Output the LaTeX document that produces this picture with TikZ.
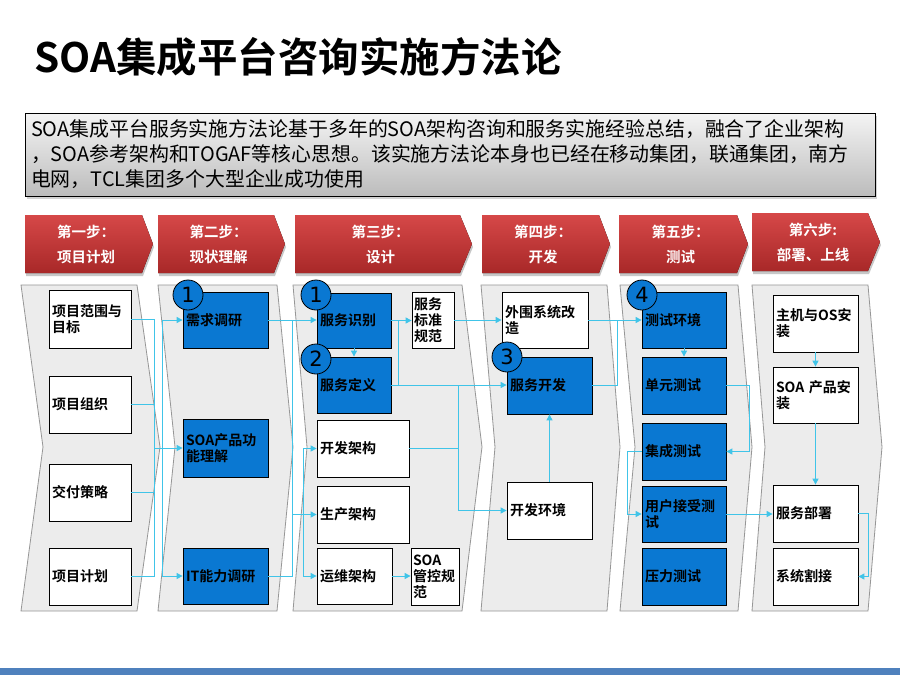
\documentclass[tikz,border=0pt]{standalone}
\usepackage{fontspec}
\setmainfont{Noto Sans CJK SC}[BoldFont={Noto Sans CJK SC Bold}]
\newfontfamily\numfont{DejaVu Sans}
\usetikzlibrary{arrows.meta,shadows}
\definecolor{connc}{RGB}{64,196,232}
\definecolor{boxblue}{RGB}{10,120,210}
\definecolor{hdtop}{RGB}{214,72,72}
\definecolor{hdbot}{RGB}{168,40,40}
\definecolor{colfill}{RGB}{236,236,236}
\definecolor{colline}{RGB}{150,150,150}
\definecolor{barblue}{RGB}{79,129,189}
\newcommand\colshape[4]{%
  \filldraw[fill=colfill,draw=colline,line width=0.8pt] (#1,285) -- (#2,285) -- ({#2+#4},447) -- (#2,611) -- (#1,611) -- ({#1+#3},447) -- cycle;}
\newcommand\hdshape[4]{%
  \fill[black!22] ({#1+1},{#4+3}) -- ({#2+1},{#4+3}) -- ({#3+1},{#4+32}) -- ({#2+1},{#4+61}) -- ({#1+1},{#4+61}) -- cycle;
  \fill[top color=hdtop,bottom color=hdbot] (#1,#4) -- (#2,#4) -- (#3,{#4+29}) -- (#2,{#4+58}) -- (#1,{#4+58}) -- cycle;}
\begin{document}
\begin{tikzpicture}[x=1pt,y=-1pt,
  wbox/.style={draw=black,line width=0.8pt,fill=white,inner xsep=3pt,inner ysep=0pt,align=left,font=\bfseries\fontsize{14}{16}\selectfont},
  bbox/.style={wbox,fill=boxblue},
  conn/.style={draw=connc,line width=1pt},
  arr/.style={-{Triangle[length=6pt,width=6pt]}},
  circ/.style={circle,draw=black,line width=0.8pt,fill=boxblue,minimum size=30pt,inner sep=0pt,font=\numfont\fontsize{21}{21}\selectfont},
  hdr/.style={text=white,align=center,font=\bfseries\fontsize{14.5}{25}\selectfont}]
\fill[white] (0,0) rectangle (900,675);
\useasboundingbox (0,0) rectangle (900,675);
% title
\node[anchor=west,inner sep=0pt,font=\bfseries\fontsize{40.5}{44}\selectfont] (title) at (34,57) {SOA集成平台咨询实施方法论};
% description
\node[draw=black,line width=0.8pt,top color={rgb,255:red,244;green,244;blue,244},bottom color={rgb,255:red,188;green,188;blue,188},
  drop shadow={shadow xshift=2pt,shadow yshift=-3pt,fill=black!35},
  minimum width=850pt,minimum height=83pt,text width=838pt,inner xsep=6pt,align=left,
  font=\fontsize{19.9}{25}\selectfont] (desc) at (450,154.5)
  {SOA集成平台服务实施方法论基于多年的SOA架构咨询和服务实施经验总结，融合了企业架构\\，SOA参考架构和TOGAF等核心思想。该实施方法论本身也已经在移动集团，联通集团，南方\\电网，TCL集团多个大型企业成功使用};
% headers
\hdshape{25}{142}{153}{215}
\hdshape{158}{274}{285}{215}
\hdshape{295}{460}{472}{215}
\hdshape{482}{599}{610}{215}
\hdshape{619}{737}{748}{215}
\hdshape{752}{868}{880}{213}
\node[hdr] (h1) at (86,244.5) {第一步：\\项目计划};
\node[hdr] (h2) at (218.5,244.5) {第二步：\\现状理解};
\node[hdr] (h3) at (380.5,244.5) {第三步：\\设计};
\node[hdr] (h4) at (543,244.5) {第四步：\\开发};
\node[hdr] (h5) at (680.5,244.5) {第五步：\\测试};
\node[hdr] (h6) at (813,242.5) {第六步:\\部署、上线};
% columns
\colshape{21}{137}{22}{23}
\colshape{158}{277}{17}{16}
\colshape{293}{462}{14}{20}
\colshape{481}{607}{14}{13}
\colshape{620}{738}{15}{14}
\colshape{752}{868}{13}{14}
% column 1
\node[wbox,minimum width=82pt,minimum height=58pt,text width=76pt] (a1) at (90,319) {项目范围与\\目标};
\node[wbox,minimum width=82pt,minimum height=57pt,text width=76pt] (a2) at (90,404.5) {项目组织};
\node[wbox,minimum width=82pt,minimum height=57pt,text width=76pt] (a3) at (90,492.5) {交付策略};
\node[wbox,minimum width=82pt,minimum height=57pt,text width=76pt] (a4) at (90,576.5) {项目计划};
% column 2
\node[bbox,minimum width=85pt,minimum height=56pt,text width=79pt] (b1) at (225.5,320) {需求调研};
\node[bbox,minimum width=85pt,minimum height=58pt,text width=79pt] (b2) at (225.5,448) {SOA产品功\\能理解};
\node[bbox,minimum width=85pt,minimum height=56pt,text width=79pt] (b3) at (225.5,576) {IT能力调研};
% column 3
\node[bbox,minimum width=74pt,minimum height=55pt,text width=68pt] (c1) at (354,320.5) {服务识别};
\node[bbox,minimum width=74pt,minimum height=56pt,text width=68pt] (c2) at (354,385) {服务定义};
\node[wbox,minimum width=92pt,minimum height=57pt,text width=86pt] (c3) at (363,448.5) {开发架构};
\node[wbox,minimum width=92pt,minimum height=57pt,text width=86pt] (c4) at (363,514.5) {生产架构};
\node[wbox,minimum width=75pt,minimum height=56pt,text width=69pt] (c5) at (354.5,576) {运维架构};
\node[wbox,inner xsep=2pt,minimum width=42pt,minimum height=56pt,text width=38pt] (c6) at (433,320) {服务\\标准\\规范};
\node[wbox,inner xsep=2pt,minimum width=48pt,minimum height=57pt,text width=44pt] (c7) at (435,576.5) {SOA\\管控规\\范};
% column 4
\node[wbox,minimum width=86pt,minimum height=56pt,text width=80pt] (d1) at (545,320) {外围系统改\\造};
\node[bbox,minimum width=85pt,minimum height=57pt,text width=79pt] (d2) at (549.5,385.5) {服务开发};
\node[wbox,minimum width=85pt,minimum height=57pt,text width=79pt] (d3) at (549.5,510.5) {开发环境};
% column 5
\node[bbox,minimum width=84pt,minimum height=56pt,text width=78pt] (e1) at (684,320) {测试环境};
\node[bbox,minimum width=84pt,minimum height=57pt,text width=78pt] (e2) at (684,385.5) {单元测试};
\node[bbox,minimum width=84pt,minimum height=57pt,text width=78pt] (e3) at (684,451.5) {集成测试};
\node[bbox,minimum width=84pt,minimum height=56pt,text width=78pt] (e4) at (684,514) {用户接受测\\试};
\node[bbox,minimum width=84pt,minimum height=57pt,text width=78pt] (e5) at (684,576.5) {压力测试};
% column 6
\node[wbox,minimum width=85pt,minimum height=57pt,text width=79pt] (f1) at (815.5,323.5) {主机与OS安\\装};
\node[wbox,minimum width=85pt,minimum height=56pt,text width=79pt] (f2) at (815.5,395) {SOA 产品安\\装};
\node[wbox,minimum width=85pt,minimum height=57pt,text width=79pt] (f3) at (815.5,513.5) {服务部署};
\node[wbox,minimum width=85pt,minimum height=57pt,text width=79pt] (f4) at (815.5,576.5) {系统割接};
% bus coordinates
\coordinate (bA) at (154,0);
\coordinate (bB) at (162,0);
\coordinate (bC) at (292,0);
\coordinate (bD) at (303,0);
\coordinate (bE) at (398,0);
\coordinate (bF) at (458,0);
\coordinate (bG) at (617,0);
\coordinate (bH) at (749,0);
\coordinate (bI) at (627,0);
\coordinate (bJ) at (868,0);
% col1 -> col2
\foreach \n in {a1,a2,a3,a4} \draw[conn] (\n.east) -- (bA |- \n.east);
\draw[conn] (bA |- a1.east) -- (bA |- a4.east);
\draw[conn,arr] (bA |- b2.west) -- (b2.west);
\draw[conn] (bB |- b1.west) -- (bB |- b3.west);
\draw[conn,arr] (bB |- b1.west) -- (b1.west);
\draw[conn,arr] (bB |- b3.west) -- (b3.west);
% col2 -> col3
\draw[conn,arr] (b1.east) -- (b1.east -| c1.west);
\draw[conn] (bC |- b1.east) -- (bC |- b3.east) -- (b3.east);
\draw[conn,arr] (bC |- c4.west) -- (c4.west);
\draw[conn] (bD |- c3.west) -- (bD |- c5.west);
\draw[conn,arr] (bD |- c3.west) -- (c3.west);
\draw[conn,arr] (bD |- c5.west) -- (c5.west);
\draw[conn,arr] (c5.east) -- (c5.east -| c7.west);
% col3
\draw[conn,arr] (c1.south) -- (c2.north);
\draw[conn,arr] (c1.east) -- (c1.east -| c6.west);
\draw[conn] (bE |- c1.east) -- (bE |- c2.east);
\draw[conn,arr] (c2.east) -- (c2.east -| d2.west);
\draw[conn] (bF |- c2.east) -- (bF |- d3.west);
\draw[conn] (c3.east) -- (bF |- c3.east);
\draw[conn,arr] (bF |- d3.west) -- (d3.west);
\draw[conn,arr] (c6.east) -- (c6.east -| d1.west);
% col4
\draw[conn,arr] (d3.north) -- (d2.south);
\draw[conn,arr] (d1.east) -- (d1.east -| e1.west);
\draw[conn] (d2.east) -- (bG |- d2.east) -- (bG |- d1.east);
% col5
\draw[conn,arr] (e1.south) -- (e2.north);
\draw[conn,arr] (e2.east) -- (bH |- e2.east) -- (bH |- e3.east) -- (e3.east);
\draw[conn,arr] (e3.west) -- (bI |- e3.west) -- (bI |- e4.west) -- (e4.west);
\draw[conn,arr] (e4.east) -- (e4.east -| f3.west);
% col6
\draw[conn,arr] (f1.south) -- (f2.north);
\draw[conn,arr] (f2.south) -- (f3.north);
\draw[conn,arr] (f3.east) -- (bJ |- f3.east) -- (bJ |- f4.east) -- (f4.east);
% circles
\node[circ] (n1) at (188,295) {1};
\node[circ] (n2) at (316,295) {1};
\node[circ] (n3) at (316,359) {2};
\node[circ] (n4) at (507,357) {3};
\node[circ] (n5) at (642,295) {4};
% bottom bar
\fill[barblue] (0,668) rectangle (900,675);
\end{tikzpicture}
\end{document}
